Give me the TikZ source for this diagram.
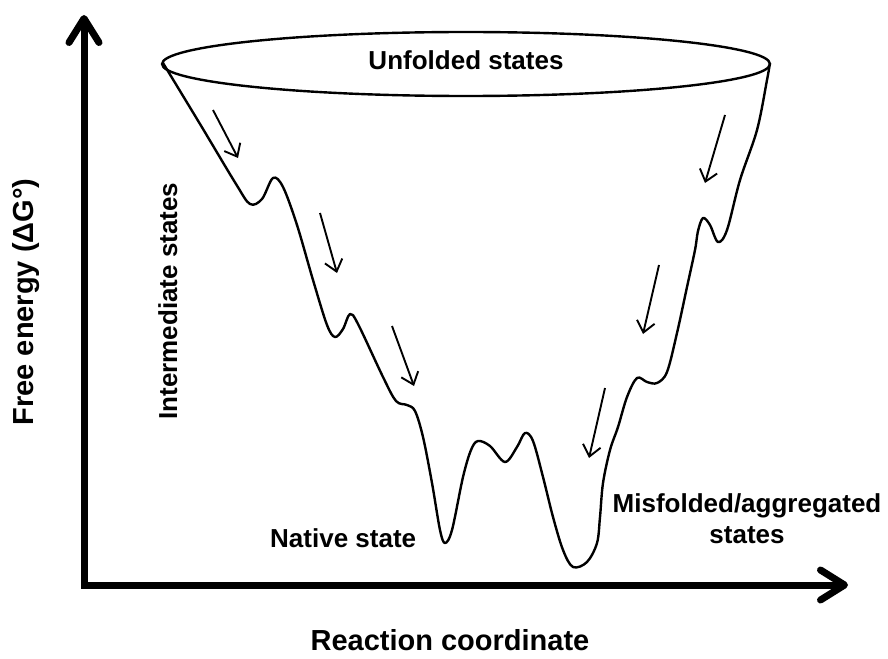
\documentclass[tikz,border=0pt]{standalone}
\usepackage{fontspec}
\setmainfont{Liberation Sans}
\usetikzlibrary{arrows.meta}
\tikzset{
  axisline/.style={line width=7pt, line join=miter},
  funnel/.style={line width=2.4pt, line join=round},
  flowarrow/.style={line width=1.9pt, -{Straight Barb[length=11pt,width=18pt]}},
  lbl/.style={font=\fontsize{26}{31}\selectfont\bfseries, inner sep=0pt, align=center},
  biglbl/.style={font=\fontsize{29}{34}\selectfont\bfseries, inner sep=0pt},
}
\begin{document}
\begin{tikzpicture}[x=1pt,y=-1pt]
\useasboundingbox (0,0) rectangle (888,658);
\fill[white] (0,0) rectangle (888,658);
% axes
\coordinate (O) at (84,585);
\coordinate (ytip) at (84,15);
\coordinate (xtip) at (848,585);
\draw[axisline, {Straight Barb[length=24pt,width=30pt,line cap=round,line join=round]}-{Straight Barb[length=24pt,width=30pt,line cap=round,line join=round]}] (ytip) -- (O) -- (xtip);
% rim
\draw[funnel] (466,64) ellipse [x radius=304, y radius=32];
% landscape
\draw[funnel] plot[smooth, tension=0.55] coordinates {
(163,63) (200,124) (236,184) (250,204) (262,199) (273,178) (283,187) (297,225) (313,280) (327,325) (335,337) (343,329) (350,314) (358,324) (383,377) (396,401) (407,405) (415,411) (423,437) (432,483) (440,530) (445,543) (452,530) (463,477) (471,450) (478,441) (490,446) (505,462) (517,447) (525,433) (533,441) (543,477) (553,517) (563,550) (573,567) (587,562) (597,543) (600,517) (603,483) (610,450) (618,427) (627,397) (637,378) (647,382) (657,383) (667,372) (677,333) (687,287) (695,250) (698,231) (703,218) (710,225) (718,242) (727,230) (740,180) (757,130) (767,80) (770,63)};
% flow arrows
\coordinate (a1s) at (213,110); \coordinate (a1e) at (238,158);
\coordinate (a2s) at (320,213); \coordinate (a2e) at (337,273);
\coordinate (a3s) at (392,326); \coordinate (a3e) at (414,386);
\coordinate (a4s) at (725,115); \coordinate (a4e) at (705,183);
\coordinate (a5s) at (659,265); \coordinate (a5e) at (643,334);
\coordinate (a6s) at (605,388); \coordinate (a6e) at (589,458);
\draw[flowarrow] (a1s) -- (a1e);
\draw[flowarrow] (a2s) -- (a2e);
\draw[flowarrow] (a3s) -- (a3e);
\draw[flowarrow] (a4s) -- (a4e);
\draw[flowarrow] (a5s) -- (a5e);
\draw[flowarrow] (a6s) -- (a6e);
% labels
\node[lbl, anchor=base] (unf) at (466,70) {Unfolded states};
\node[lbl, anchor=base west] (nat) at (270,547) {Native state};
\node[lbl, anchor=base] (mis) at (747,543) {Misfolded/aggregated\\states};
\node[lbl, anchor=base, rotate=90] (inter) at (177,301) {Intermediate states};
\node[lbl, anchor=base, rotate=90, font=\fontsize{29}{34}\selectfont\bfseries] (fe) at (33,302) {Free energy (ΔG°)};
\node[biglbl, anchor=base] (rc) at (450,650) {Reaction coordinate};
\end{tikzpicture}
\end{document}
